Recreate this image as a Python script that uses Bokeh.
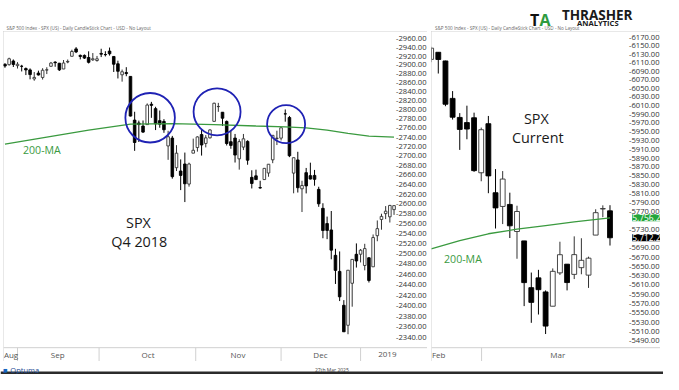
from bokeh.plotting import figure
from bokeh.models import (ColumnDataSource, FixedTicker, PrintfTickFormatter, Label,
                          Range1d, Spacer, BoxAnnotation, Span)
from bokeh.core.properties import value
from bokeh.layouts import row, column
from bokeh.embed import file_html
from bokeh.resources import INLINE

FONT = "Open Sans"

# ---------------- SPX Q4 2018 (daily, 28 Aug 2018 .. 11 Jan 2019) ----------------
Q4_OPEN = [2901.45, 2900.62, 2908.94, 2898.37,
           2896.96, 2891.59, 2888.64, 2868.26, 2881.39, 2871.57, 2888.29, 2896.85, 2906.38, 2903.83,
           2890.74, 2906.60, 2919.73, 2936.76, 2921.83, 2921.75, 2916.98, 2911.65, 2910.03,
           2926.29, 2923.80, 2931.69, 2919.35, 2902.54, 2877.53, 2882.51, 2873.90, 2776.87, 2770.54,
           2763.83, 2767.05, 2811.67, 2802.00, 2775.66, 2773.94, 2721.03, 2737.87, 2674.88, 2667.86,
           2682.65, 2640.68, 2705.60,
           2717.58, 2745.45, 2726.37, 2738.40, 2774.13, 2806.38, 2794.10, 2773.93, 2730.05, 2737.90,
           2693.52, 2718.54, 2730.74, 2654.60, 2657.74, 2633.36, 2649.97, 2663.75, 2691.45, 2736.97,
           2737.76,
           2790.50, 2782.43, 2663.51, 2691.26, 2630.86, 2664.44, 2658.23, 2658.70, 2629.68, 2590.75,
           2559.90, 2547.05, 2496.77, 2465.38, 2400.56, 2363.12, 2442.50, 2498.77, 2498.94,
           2476.96, 2491.92, 2474.33, 2535.61, 2568.11, 2580.00, 2573.51, 2588.11]
Q4_HIGH = [2903.77, 2916.50, 2912.46, 2906.32,
           2900.18, 2894.21, 2892.05, 2883.81, 2886.93, 2892.52, 2894.65, 2906.76, 2908.30, 2904.65,
           2911.17, 2912.36, 2934.80, 2940.91, 2923.79, 2923.95, 2931.15, 2927.22, 2920.53,
           2937.06, 2931.42, 2939.86, 2919.78, 2909.64, 2889.45, 2894.83, 2874.02, 2795.14, 2775.77,
           2775.99, 2813.46, 2816.94, 2806.04, 2797.77, 2778.94, 2753.59, 2742.59, 2722.70, 2692.38,
           2706.85, 2685.43, 2736.69,
           2741.67, 2756.55, 2744.27, 2756.82, 2815.15, 2814.75, 2794.10, 2775.99, 2754.60, 2746.80,
           2735.38, 2746.75, 2733.16, 2669.44, 2670.73, 2647.55, 2674.35, 2682.53, 2744.00, 2753.75,
           2760.88,
           2800.18, 2785.93, 2696.15, 2708.54, 2647.51, 2674.35, 2685.44, 2670.19, 2635.07, 2601.13,
           2573.99, 2585.29, 2509.63, 2504.41, 2410.34, 2467.76, 2489.10, 2520.27, 2509.24,
           2519.49, 2493.14, 2538.07, 2566.16, 2579.82, 2595.32, 2597.82, 2596.27]
Q4_LOW = [2893.50, 2898.40, 2895.22, 2891.73,
          2885.13, 2876.92, 2867.29, 2864.12, 2875.94, 2866.78, 2879.20, 2896.39, 2895.77, 2886.16,
          2890.43, 2903.82, 2919.73, 2927.11, 2912.63, 2913.70, 2903.28, 2909.27, 2907.50,
          2917.91, 2919.37, 2921.36, 2883.92, 2869.29, 2862.08, 2874.27, 2784.86, 2710.51, 2729.44,
          2749.03, 2766.91, 2781.81, 2755.18, 2760.27, 2749.22, 2691.43, 2651.89, 2667.84, 2628.16,
          2603.54, 2635.34, 2705.60,
          2708.85, 2700.44, 2717.94, 2737.08, 2774.13, 2794.99, 2764.24, 2722.00, 2714.98, 2685.75,
          2670.75, 2712.16, 2681.09, 2631.52, 2649.82, 2631.09, 2649.97, 2655.89, 2684.38, 2722.94,
          2732.76,
          2773.38, 2697.18, 2621.53, 2623.14, 2583.23, 2621.30, 2650.26, 2637.27, 2593.84, 2530.54,
          2528.71, 2488.96, 2441.18, 2408.55, 2351.10, 2346.58, 2397.94, 2472.89, 2482.82,
          2467.47, 2443.96, 2474.33, 2524.56, 2547.56, 2568.89, 2562.02, 2577.40]
Q4_CLOSE = [2897.52, 2914.04, 2901.13, 2901.52,
            2896.72, 2888.60, 2878.05, 2871.68, 2877.13, 2887.89, 2888.92, 2904.18, 2904.98, 2888.80,
            2904.31, 2907.95, 2930.75, 2929.67, 2919.37, 2915.56, 2905.97, 2914.00, 2913.98,
            2924.59, 2923.43, 2925.51, 2901.61, 2885.57, 2884.43, 2880.34, 2785.68, 2728.37, 2767.13,
            2750.79, 2809.92, 2809.21, 2768.78, 2767.78, 2755.88, 2740.69, 2656.10, 2705.57, 2658.69,
            2641.25, 2682.63, 2711.74,
            2740.37, 2723.06, 2738.31, 2755.45, 2813.89, 2806.83, 2781.01, 2726.22, 2722.18, 2701.58,
            2730.20, 2736.27, 2690.73, 2641.89, 2649.93, 2632.56, 2673.45, 2682.17, 2743.79, 2737.80,
            2760.17,
            2790.37, 2700.06, 2695.95, 2633.08, 2637.72, 2636.78, 2651.07, 2650.54, 2599.95, 2545.94,
            2546.16, 2506.96, 2467.42, 2416.62, 2351.10, 2467.70, 2488.83, 2485.74, 2506.85,
            2510.03, 2447.89, 2531.94, 2549.69, 2574.41, 2584.96, 2596.64, 2596.26]
Q4_MA_BAR = [0, 10, 20, 30, 40, 50, 60, 67, 72, 77, 82, 87, 93]
Q4_MA = [2725, 2740, 2755, 2768, 2769, 2767, 2764, 2762, 2760, 2755, 2748, 2742, 2740]
Q4_TICKS = list(range(2340, 2961, 20))
Q4_MONTHS = ["Aug", "Sep", "Oct", "Nov", "Dec", "2019"]
Q4_MONTH_POS = [1.45, 12.6, 34.2, 55.7, 75.4, 91.4]
Q4_MONTH_BOUNDS = [3.0, 22.5, 45.6, 66.0, 85.0]
Q4_CIRCLE_BAR = [34.7, 50.7, 67.2]
Q4_CIRCLE_PRICE = [2782, 2795, 2768]

# ---------------- SPX current (daily, 19 Feb 2025 .. 26 Mar 2025) ----------------
CUR_OPEN = [6117.76, 6134.50, 6114.10, 6026.69, 5982.73, 5970.87, 5981.88, 5856.74, 5968.33,
            5811.98, 5781.44, 5785.87, 5726.01, 5705.37, 5603.65, 5624.84, 5594.45, 5563.85,
            5635.60, 5654.53, 5632.37, 5646.92, 5630.73, 5718.08, 5775.86, 5771.66]
CUR_HIGH = [6147.43, 6134.50, 6114.82, 6043.65, 5992.65, 6009.82, 5993.69, 5959.40, 5986.09,
            5865.08, 5860.59, 5812.08, 5783.01, 5705.37, 5636.30, 5642.19, 5597.78, 5645.27,
            5703.52, 5654.53, 5715.33, 5711.15, 5670.84, 5775.14, 5783.85, 5784.20]
CUR_LOW = [6111.15, 6084.59, 6008.56, 5977.83, 5908.49, 5932.69, 5858.78, 5837.66, 5810.91,
           5732.59, 5742.35, 5711.64, 5666.29, 5564.02, 5528.41, 5546.09, 5504.65, 5563.85,
           5631.12, 5597.76, 5622.20, 5632.57, 5603.10, 5718.08, 5757.56, 5695.16]
CUR_CLOSE = [6144.15, 6117.52, 6013.13, 5983.25, 5955.25, 5956.06, 5861.57, 5954.50, 5849.72,
             5778.15, 5842.63, 5738.52, 5770.20, 5614.56, 5572.07, 5599.30, 5521.52, 5638.94,
             5675.12, 5614.66, 5675.29, 5662.89, 5667.56, 5767.57, 5776.65, 5712.20]
CUR_MA_BAR = [0, 4, 8, 12, 16, 20, 25]
CUR_MA = [5688, 5706, 5721, 5731, 5739, 5747, 5756]
CUR_MA_LAST = 5756.2
CUR_LAST = 5712.2
# the two value flags cover the 5750 and 5710 labels
CUR_TICKS = [t for t in range(5490, 6171, 20) if t not in (5710, 5750)]
CUR_MONTHS = ["Feb", "Mar"]
CUR_MONTH_POS = [1.06, 17.7]
CUR_MONTH_BOUNDS = [7.05]

TITLE = "S&P 500 Index - SPX (US) - Daily CandleStick Chart - USD - No Layout"

GREEN = "#3a9a3f"
BORDER = "#d0d0d0"
HEADER_H = 31
PANEL_H = 330
FOOTER_H = 13


def candle_panel(width, label_anchor, xr, yr, band_top, band_mid, o, h, l, c, body_w, ticks,
                 month_pos, month_names, month_bounds, ma_bar, ma_val):
    # the frame covers the whole panel; the price labels and the month band are
    # drawn over its right strip and bottom strip, as in the original layout
    p = figure(width=width, height=PANEL_H, x_range=Range1d(*xr), y_range=Range1d(*yr),
               y_axis_type="log", y_axis_location="left", x_axis_location=None,
               output_backend="svg", toolbar_location=None,
               min_border_left=0, min_border_top=0, min_border_bottom=0,
               min_border_right=0)
    p.xgrid.visible = False
    p.ygrid.visible = False
    p.outline_line_color = None
    p.background_fill_color = "white"
    p.border_fill_color = "white"
    p.styles = {"outline": "1px solid " + BORDER, "outline-offset": "-1px"}

    bars = list(range(len(o)))
    up = [ci >= oi for oi, ci in zip(o, c)]
    src = ColumnDataSource(dict(
        x=bars, h=h, l=l,
        top=[max(a, b) for a, b in zip(o, c)],
        bottom=[min(a, b) for a, b in zip(o, c)],
        fill=["white" if u else "black" for u in up],
        line=["#333333" if u else "black" for u in up],
    ))
    p.segment(x0="x", y0="l", x1="x", y1="h", line_color="line", line_width=1, source=src)
    p.vbar(x="x", width=body_w, top="top", bottom="bottom", fill_color="fill",
           line_color="line", line_width=0.9, source=src)
    p.line(ma_bar, ma_val, line_color=GREEN, line_width=1.3)

    # month band at the bottom: top edge, month separators and month names
    p.add_layout(Span(location=band_top, dimension="width", line_color=BORDER, line_width=1))
    n = len(month_bounds)
    p.segment(x0=month_bounds, y0=[yr[0]] * n, x1=month_bounds, y1=[band_top] * n,
              line_color=BORDER, line_width=1)
    p.text(x=month_pos, y=[band_mid] * len(month_pos), text=month_names,
           text_font=value(FONT), text_font_size="8px", text_color="#555555",
           text_align="center", text_baseline="middle")

    # price scale, its labels right-aligned against the right edge of the panel
    ya = p.yaxis[0]
    ya.axis_label = None
    ya.ticker = FixedTicker(ticks=ticks)
    ya.formatter = PrintfTickFormatter(format="-%.2f")
    ya.axis_line_color = None
    ya.major_tick_out = 0
    ya.major_tick_in = 0
    ya.minor_tick_out = 0
    ya.minor_tick_in = 0
    ya.major_label_standoff = -label_anchor
    ya.major_label_text_font = FONT
    ya.major_label_text_font_size = "7.6px"
    ya.major_label_text_color = "#333333"
    return p


def add_text(p, x, y, text, size, color, align="center", style="normal", baseline="middle",
             level="annotation"):
    p.add_layout(Label(x=x, y=y, text=text, text_font=FONT, text_font_size=size,
                       text_color=color, text_align=align, text_baseline=baseline,
                       text_font_style=style, level=level))


# ---------------- left panel ----------------
left = candle_panel(424, 423, (-0.35, 101.0), (2296.8, 2977.2), 2321.9, 2309.7,
                    Q4_OPEN, Q4_HIGH, Q4_LOW, Q4_CLOSE, 0.62, Q4_TICKS,
                    Q4_MONTH_POS, Q4_MONTHS, Q4_MONTH_BOUNDS, Q4_MA_BAR, Q4_MA)
left.scatter(Q4_CIRCLE_BAR, Q4_CIRCLE_PRICE, size=[49.5, 47, 38], marker="circle",
             fill_color=None, line_color="#1f22b4", line_width=1.8)
add_text(left, 4.3, 2712, "200-MA", "10.6px", GREEN, align="left")
add_text(left, 31.9, 2563, "SPX", "14.4px", "#1a1a1a")
add_text(left, 32.1, 2525, "Q4 2018", "14.4px", "#1a1a1a")

# ---------------- right panel ----------------
right = candle_panel(229, 228, (0.05, 32.06), (5446.8, 6183.7), 5475.8, 5461.7,
                     CUR_OPEN, CUR_HIGH, CUR_LOW, CUR_CLOSE, 0.68, CUR_TICKS,
                     CUR_MONTH_POS, CUR_MONTHS, CUR_MONTH_BOUNDS, CUR_MA_BAR, CUR_MA)
add_text(right, 14.7, 5980, "SPX", "14.4px", "#1a1a1a")
add_text(right, 14.9, 5937, "Current", "14.4px", "#1a1a1a")
add_text(right, 1.8, 5665, "200-MA", "10.6px", GREEN, align="left")
for val, bg in [(CUR_MA_LAST, "#22a53a"), (CUR_LAST, "black")]:
    right.add_layout(Label(x=28.1, y=val, text=f"{val:,.1f}", text_font=FONT,
                           text_font_size="8.4px", text_color="white", text_align="left",
                           text_baseline="middle", background_fill_color=bg,
                           background_fill_alpha=1.0, level="overlay"))

# ---------------- header ----------------
header = figure(width=663, height=HEADER_H, x_range=Range1d(0, 663), y_range=Range1d(0, HEADER_H),
                x_axis_location=None, y_axis_location=None, output_backend="svg",
                toolbar_location=None, min_border=0)
header.grid.visible = False
header.outline_line_color = None
add_text(header, 5.9, 3.2, TITLE, "4.6px", "#666666", align="left")
add_text(header, 434.5, 3.2, TITLE, "4.6px", "#666666", align="left")
add_text(header, 529.5, 11.5, "T", "16px", "#111111", align="left", style="bold",
         baseline="alphabetic")
add_text(header, 539, 11.5, "A", "16px", "#2e9b3f", align="left", style="bold",
         baseline="alphabetic")
add_text(header, 561.4, 16.4, "THRASHER", "13.5px", "#1a1a1a", align="left", style="bold",
         baseline="alphabetic")
add_text(header, 576.5, 8.7, "ANALYTICS", "7.6px", "#1a1a1a", align="left", style="bold",
         baseline="alphabetic")

# ---------------- footer ----------------
footer = figure(width=663, height=FOOTER_H, x_range=Range1d(0, 663), y_range=Range1d(0, FOOTER_H),
                x_axis_location=None, y_axis_location=None, output_backend="svg",
                toolbar_location=None, min_border=0)
footer.grid.visible = False
footer.outline_line_color = None
footer.add_layout(BoxAnnotation(bottom=0, top=2.9, fill_color="#2b2b2b", fill_alpha=1,
                                line_color=None))
add_text(footer, 2.6, 4.8, "■", "7.5px", "#1565c0", align="left", baseline="alphabetic")
add_text(footer, 9.8, 4.8, "Optuma", "7.5px", "#1f4e96", align="left", baseline="alphabetic")
add_text(footer, 314.4, 4.8, "27th Mar 2025", "5px", "#444444", align="left",
         baseline="alphabetic")

middle = row(Spacer(width=3, height=PANEL_H), left, Spacer(width=4, height=PANEL_H), right,
             Spacer(width=3, height=PANEL_H))
root = column(header, middle, footer)

open("out.html", "w").write(file_html(root, INLINE, "SPX"))
